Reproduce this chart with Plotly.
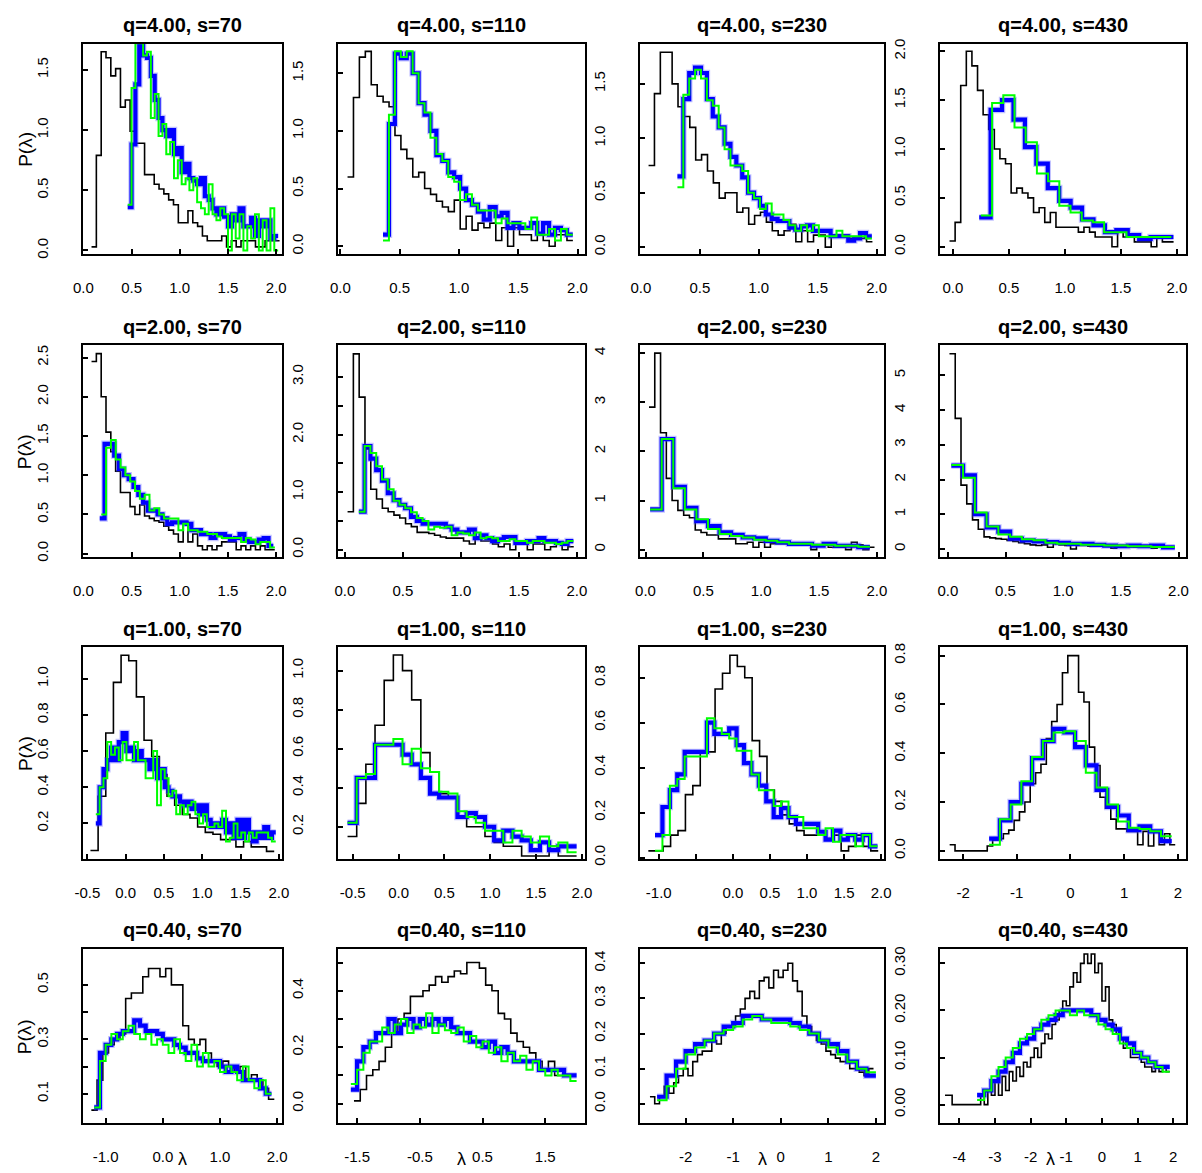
import plotly.graph_objects as go

W, H = 1202, 1173
FONT = "Liberation Sans, Arial, Helvetica, sans-serif"

# ---------------- data ----------------
q_labels = ["4.00", "2.00", "1.00", "0.40"]
s_labels = ["70", "110", "230", "430"]

# bins: (left edge of first bin, bin width) for black / blue / green
q4_s70_bins = {"black": (0.085, 0.05), "blue": (0.46, 0.04), "green": (0.46, 0.04)}
q4_s70_black = [0.03, 0.79, 1.65, 1.60, 1.45, 1.51, 1.19, 1.25, 0.99, 0.89, 0.89, 0.63, 0.63, 0.55, 0.51, 0.47, 0.42, 0.38, 0.23, 0.23, 0.33, 0.23, 0.20, 0.12, 0.08, 0.08, 0.08, 0.12, 0.03, 0.08, 0.03, 0.08, 0.08, 0.08, 0.03, 0.03, 0.08, 0.08, 0.08]
q4_s70_blue = [0.36, 0.88, 1.38, 1.75, 1.62, 1.60, 1.45, 1.25, 1.10, 1.00, 0.95, 1.00, 0.80, 0.85, 0.65, 0.72, 0.60, 0.58, 0.55, 0.60, 0.45, 0.42, 0.35, 0.30, 0.35, 0.28, 0.20, 0.30, 0.25, 0.35, 0.20, 0.20, 0.27, 0.12, 0.25, 0.20, 0.25, 0.10, 0.12]
q4_s70_green = [0.38, 1.35, 1.72, 1.72, 1.62, 1.65, 1.10, 1.30, 0.95, 1.05, 0.80, 0.90, 0.60, 0.75, 0.55, 0.60, 0.50, 0.60, 0.40, 0.35, 0.30, 0.55, 0.30, 0.25, 0.35, 0.30, 0.00, 0.30, 0.10, 0.30, 0.00, 0.20, 0.10, 0.30, 0.00, 0.25, 0.00, 0.35, 0.00]

q4_s110_bins = {"black": (0.061, 0.05), "blue": (0.36, 0.05), "green": (0.36, 0.05)}
q4_s110_black = [0.60, 1.29, 1.64, 1.69, 1.40, 1.30, 1.25, 1.21, 0.96, 0.84, 0.76, 0.60, 0.64, 0.50, 0.45, 0.39, 0.34, 0.30, 0.40, 0.15, 0.26, 0.14, 0.20, 0.16, 0.20, 0.05, 0.16, 0.0, 0.16, 0.10, 0.10, 0.05, 0.10, 0.05, 0.0, 0.10, 0.10, 0.05]
q4_s110_blue = [0.10, 1.06, 1.67, 1.63, 1.67, 1.50, 1.24, 1.14, 1.00, 0.79, 0.74, 0.64, 0.60, 0.50, 0.40, 0.36, 0.30, 0.23, 0.34, 0.26, 0.29, 0.16, 0.20, 0.16, 0.16, 0.20, 0.11, 0.20, 0.10, 0.16, 0.14, 0.10]
q4_s110_green = [0.05, 1.14, 1.69, 1.64, 1.69, 1.50, 1.24, 1.16, 0.94, 0.80, 0.74, 0.60, 0.56, 0.40, 0.45, 0.36, 0.31, 0.31, 0.31, 0.20, 0.24, 0.20, 0.20, 0.20, 0.15, 0.25, 0.10, 0.10, 0.15, 0.05, 0.15, 0.10]

q4_s230_bins = {"black": (0.065, 0.05), "blue": (0.31, 0.05), "green": (0.31, 0.05)}
q4_s230_black = [0.75, 1.41, 1.79, 1.79, 1.50, 1.29, 1.20, 1.10, 0.80, 0.85, 0.70, 0.59, 0.45, 0.50, 0.50, 0.32, 0.36, 0.21, 0.29, 0.32, 0.23, 0.15, 0.11, 0.15, 0.21, 0.05, 0.15, 0.05, 0.11, 0.11, 0.0, 0.11, 0.11, 0.11, 0.08, 0.08, 0.08, 0.05]
q4_s230_blue = [0.65, 1.36, 1.60, 1.65, 1.60, 1.36, 1.20, 1.10, 0.95, 0.83, 0.75, 0.64, 0.50, 0.45, 0.38, 0.30, 0.26, 0.24, 0.24, 0.18, 0.16, 0.19, 0.20, 0.15, 0.15, 0.15, 0.10, 0.10, 0.10, 0.06, 0.08, 0.13, 0.10]
q4_s230_green = [0.55, 1.40, 1.55, 1.63, 1.55, 1.35, 1.30, 1.10, 0.90, 0.75, 0.75, 0.70, 0.50, 0.45, 0.35, 0.40, 0.30, 0.30, 0.25, 0.20, 0.15, 0.20, 0.15, 0.20, 0.10, 0.10, 0.10, 0.15, 0.10, 0.10, 0.10, 0.10, 0.08]

q4_s430_bins = {"black": (-0.03, 0.05), "blue": (0.235, 0.102), "green": (0.25, 0.1)}
q4_s430_black = [0.06, 0.25, 1.65, 2.00, 1.85, 1.60, 1.35, 1.20, 1.00, 0.90, 0.85, 0.55, 0.60, 0.55, 0.50, 0.35, 0.40, 0.25, 0.35, 0.20, 0.20, 0.20, 0.20, 0.15, 0.20, 0.15, 0.10, 0.10, 0.10, 0.0, 0.15, 0.10, 0.10, 0.05, 0.05, 0.05, 0.0, 0.10, 0.05, 0.05]
q4_s430_blue = [0.30, 1.40, 1.50, 1.30, 1.02, 0.85, 0.60, 0.47, 0.40, 0.28, 0.22, 0.15, 0.17, 0.12, 0.08, 0.10, 0.10]
q4_s430_green = [0.32, 1.47, 1.55, 1.22, 1.07, 0.75, 0.67, 0.42, 0.35, 0.27, 0.25, 0.15, 0.15, 0.10, 0.10, 0.10, 0.10]

q2_s70_bins = {"black": (0.085, 0.05), "blue": (0.17, 0.05), "green": (0.186, 0.05)}
q2_s70_black = [2.45, 2.55, 2.00, 1.55, 1.30, 1.05, 0.78, 0.78, 0.60, 0.50, 0.62, 0.48, 0.45, 0.42, 0.40, 0.35, 0.30, 0.25, 0.15, 0.40, 0.15, 0.25, 0.10, 0.05, 0.10, 0.05, 0.10, 0.15, 0.15, 0.15, 0.05, 0.10, 0.05, 0.10, 0.05, 0.10, 0.05, 0.05]
q2_s70_blue = [0.45, 1.40, 1.40, 1.25, 1.08, 1.00, 0.95, 0.85, 0.75, 0.65, 0.55, 0.55, 0.50, 0.45, 0.38, 0.40, 0.40, 0.40, 0.38, 0.30, 0.30, 0.25, 0.25, 0.20, 0.25, 0.25, 0.22, 0.18, 0.20, 0.25, 0.18, 0.15, 0.15, 0.18, 0.20, 0.10]
q2_s70_green = [0.50, 1.35, 1.45, 1.20, 1.10, 1.00, 0.92, 0.80, 0.70, 0.75, 0.55, 0.58, 0.50, 0.45, 0.45, 0.45, 0.30, 0.38, 0.30, 0.30, 0.28, 0.28, 0.25, 0.25, 0.22, 0.20, 0.20, 0.20, 0.20, 0.15, 0.20, 0.18, 0.12, 0.15, 0.15, 0.08]

q2_s110_bins = {"black": (0.023, 0.05), "blue": (0.12, 0.05), "green": (0.12, 0.05)}
q2_s110_black = [0.66, 3.40, 2.65, 1.75, 1.05, 0.88, 0.72, 0.66, 0.60, 0.55, 0.45, 0.40, 0.30, 0.30, 0.28, 0.25, 0.22, 0.20, 0.20, 0.20, 0.15, 0.10, 0.20, 0.15, 0.15, 0.10, 0.05, 0.10, 0.0, 0.10, 0.10, 0.0, 0.10, 0.10, 0.0, 0.05, 0.10, 0.0, 0.05]
q2_s110_blue = [0.66, 1.80, 1.58, 1.38, 1.20, 0.98, 0.86, 0.78, 0.72, 0.57, 0.50, 0.45, 0.45, 0.45, 0.45, 0.40, 0.35, 0.30, 0.30, 0.35, 0.20, 0.25, 0.20, 0.15, 0.18, 0.22, 0.22, 0.12, 0.12, 0.15, 0.15, 0.20, 0.15, 0.15, 0.12, 0.10, 0.15]
q2_s110_green = [0.66, 1.80, 1.68, 1.45, 1.22, 1.05, 0.85, 0.78, 0.72, 0.65, 0.55, 0.50, 0.35, 0.40, 0.38, 0.40, 0.25, 0.30, 0.28, 0.25, 0.30, 0.20, 0.22, 0.20, 0.15, 0.15, 0.18, 0.15, 0.15, 0.12, 0.15, 0.15, 0.12, 0.12, 0.10, 0.12, 0.15]

q2_s230_bins = {"black": (0.03, 0.05), "blue": (0.04, 0.1), "green": (0.04, 0.1)}
q2_s230_black = [2.90, 4.00, 2.38, 1.45, 1.00, 0.80, 0.70, 0.65, 0.40, 0.35, 0.30, 0.30, 0.22, 0.22, 0.22, 0.12, 0.12, 0.15, 0.05, 0.15, 0.05, 0.12, 0.12, 0.12, 0.10, 0.10, 0.10, 0.10, 0.0, 0.10, 0.10, 0.05, 0.05, 0.05, 0.0, 0.15, 0.10, 0.0, 0.05]
q2_s230_blue = [0.82, 2.25, 1.28, 0.85, 0.58, 0.48, 0.35, 0.30, 0.25, 0.23, 0.18, 0.15, 0.12, 0.12, 0.08, 0.12, 0.08, 0.08, 0.05]
q2_s230_green = [0.82, 2.25, 1.25, 0.82, 0.62, 0.42, 0.32, 0.28, 0.25, 0.20, 0.18, 0.15, 0.12, 0.12, 0.10, 0.10, 0.08, 0.08, 0.06]

q2_s430_bins = {"black": (0.014, 0.05), "blue": (0.03, 0.102), "green": (0.03, 0.102)}
q2_s430_black = [5.62, 3.76, 1.84, 1.30, 0.84, 0.57, 0.35, 0.32, 0.30, 0.28, 0.25, 0.22, 0.18, 0.15, 0.12, 0.10, 0.12, 0.05, 0.15, 0.12, 0.10, 0.0, 0.10, 0.10, 0.08, 0.10, 0.12, 0.10, 0.02, 0.08, 0.08, 0.06, 0.05, 0.05, 0.05, 0.02, 0.05, 0.02, 0.05]
q2_s430_blue = [2.40, 2.12, 1.00, 0.62, 0.50, 0.30, 0.25, 0.22, 0.20, 0.18, 0.15, 0.15, 0.12, 0.10, 0.08, 0.10, 0.08, 0.10, 0.05]
q2_s430_green = [2.42, 2.05, 1.05, 0.65, 0.42, 0.35, 0.28, 0.25, 0.18, 0.15, 0.15, 0.12, 0.12, 0.10, 0.10, 0.08, 0.08, 0.06, 0.06]

q1_s70_bins = {"black": (-0.46, 0.1), "blue": (-0.39, 0.05), "green": (-0.39, 0.05)}
q1_s70_black = [0.05, 0.35, 0.70, 0.98, 1.13, 1.10, 0.90, 0.66, 0.57, 0.47, 0.35, 0.30, 0.25, 0.23, 0.18, 0.15, 0.14, 0.11, 0.11, 0.07, 0.10, 0.07, 0.07, 0.045]
q1_s70_blue = [0.20, 0.40, 0.50, 0.55, 0.62, 0.55, 0.65, 0.70, 0.60, 0.62, 0.55, 0.60, 0.55, 0.55, 0.50, 0.55, 0.45, 0.50, 0.40, 0.38, 0.35, 0.35, 0.32, 0.30, 0.32, 0.28, 0.30, 0.25, 0.30, 0.22, 0.18, 0.20, 0.18, 0.22, 0.15, 0.20, 0.12, 0.22, 0.12, 0.22, 0.15, 0.10, 0.15, 0.12, 0.18, 0.12, 0.15]
q1_s70_green = [0.25, 0.40, 0.45, 0.65, 0.58, 0.62, 0.55, 0.65, 0.55, 0.55, 0.65, 0.55, 0.55, 0.45, 0.45, 0.60, 0.30, 0.50, 0.45, 0.35, 0.38, 0.25, 0.30, 0.25, 0.30, 0.32, 0.25, 0.20, 0.25, 0.18, 0.18, 0.20, 0.18, 0.27, 0.10, 0.12, 0.20, 0.12, 0.15, 0.10, 0.15, 0.12, 0.15, 0.15, 0.15, 0.12, 0.10]

q1_s110_bins = {"black": (-0.557, 0.1), "blue": (-0.557, 0.1), "green": (-0.557, 0.1)}
q1_s110_black = [0.15, 0.32, 0.52, 0.72, 0.95, 1.08, 1.00, 0.85, 0.58, 0.48, 0.37, 0.35, 0.25, 0.20, 0.20, 0.15, 0.12, 0.10, 0.10, 0.05, 0.05, 0.05, 0.10, 0.05, 0.05]
q1_s110_blue = [0.22, 0.45, 0.45, 0.62, 0.62, 0.62, 0.57, 0.52, 0.45, 0.37, 0.35, 0.35, 0.25, 0.27, 0.25, 0.20, 0.13, 0.18, 0.15, 0.13, 0.08, 0.12, 0.08, 0.10, 0.10]
q1_s110_green = [0.22, 0.45, 0.47, 0.62, 0.62, 0.65, 0.52, 0.60, 0.50, 0.48, 0.38, 0.37, 0.28, 0.25, 0.22, 0.18, 0.18, 0.12, 0.18, 0.15, 0.12, 0.15, 0.10, 0.12, 0.07]

q1_s230_bins = {"black": (-1.14, 0.1), "blue": (-1.05, 0.1), "green": (-1.05, 0.1)}
q1_s230_black = [0.03, 0.03, 0.05, 0.10, 0.12, 0.28, 0.32, 0.47, 0.47, 0.75, 0.82, 0.90, 0.85, 0.80, 0.52, 0.45, 0.30, 0.25, 0.19, 0.15, 0.12, 0.10, 0.10, 0.10, 0.085, 0.10, 0.03, 0.05, 0.10, 0.05, 0.03]
q1_s230_blue = [0.10, 0.225, 0.30, 0.37, 0.47, 0.47, 0.47, 0.60, 0.55, 0.55, 0.575, 0.50, 0.42, 0.37, 0.32, 0.25, 0.18, 0.22, 0.18, 0.15, 0.15, 0.15, 0.115, 0.08, 0.12, 0.08, 0.10, 0.08, 0.10, 0.05]
q1_s230_green = [0.03, 0.10, 0.32, 0.35, 0.45, 0.45, 0.45, 0.62, 0.575, 0.55, 0.53, 0.475, 0.475, 0.37, 0.30, 0.30, 0.23, 0.25, 0.18, 0.18, 0.13, 0.13, 0.10, 0.13, 0.07, 0.10, 0.10, 0.05, 0.10, 0.05]

q1_s430_bins = {"black": (-2.25, 0.1), "blue": (-1.515, 0.2), "green": (-1.515, 0.2)}
q1_s430_black = [0.025, 0.0, 0.0, 0.0, 0.0, 0.0, 0.0, 0.02, 0.045, 0.05, 0.07, 0.085, 0.125, 0.16, 0.20, 0.275, 0.32, 0.355, 0.46, 0.53, 0.60, 0.73, 0.80, 0.80, 0.65, 0.61, 0.425, 0.35, 0.22, 0.175, 0.13, 0.09, 0.09, 0.08, 0.08, 0.025, 0.08, 0.02, 0.08, 0.025, 0.07, 0.025]
q1_s430_blue = [0.05, 0.125, 0.20, 0.275, 0.38, 0.45, 0.50, 0.485, 0.425, 0.35, 0.25, 0.18, 0.145, 0.085, 0.10, 0.08, 0.04]
q1_s430_green = [0.025, 0.13, 0.19, 0.285, 0.385, 0.45, 0.485, 0.49, 0.45, 0.32, 0.26, 0.19, 0.12, 0.095, 0.09, 0.08, 0.06]

q04_s70_bins = {"black": (-1.25, 0.1), "blue": (-1.2, 0.1), "green": (-1.2, 0.1)}
q04_s70_black = [0.04, 0.15, 0.25, 0.28, 0.30, 0.32, 0.45, 0.47, 0.47, 0.53, 0.56, 0.56, 0.53, 0.56, 0.50, 0.50, 0.35, 0.30, 0.28, 0.30, 0.25, 0.22, 0.20, 0.22, 0.20, 0.18, 0.20, 0.15, 0.17, 0.15, 0.12, 0.08]
q04_s70_blue = [0.05, 0.25, 0.28, 0.30, 0.32, 0.33, 0.33, 0.37, 0.35, 0.33, 0.33, 0.32, 0.30, 0.30, 0.28, 0.27, 0.25, 0.25, 0.23, 0.22, 0.22, 0.22, 0.20, 0.18, 0.20, 0.18, 0.15, 0.15, 0.15, 0.12, 0.10]
q04_s70_green = [0.05, 0.22, 0.28, 0.32, 0.30, 0.33, 0.35, 0.32, 0.30, 0.32, 0.28, 0.30, 0.28, 0.25, 0.30, 0.25, 0.22, 0.28, 0.20, 0.25, 0.20, 0.22, 0.18, 0.20, 0.18, 0.15, 0.20, 0.15, 0.12, 0.15, 0.10]

q04_s110_bins = {"black": (-1.55, 0.1), "blue": (-1.6, 0.1), "green": (-1.6, 0.1)}
q04_s110_black = [0.01, 0.05, 0.10, 0.12, 0.15, 0.20, 0.25, 0.30, 0.32, 0.38, 0.38, 0.40, 0.42, 0.45, 0.43, 0.45, 0.47, 0.46, 0.50, 0.50, 0.48, 0.42, 0.40, 0.32, 0.30, 0.25, 0.22, 0.20, 0.18, 0.15, 0.12, 0.15, 0.10, 0.10, 0.10]
q04_s110_blue = [0.05, 0.15, 0.20, 0.22, 0.25, 0.25, 0.30, 0.25, 0.28, 0.30, 0.27, 0.30, 0.28, 0.30, 0.28, 0.30, 0.27, 0.25, 0.25, 0.22, 0.22, 0.20, 0.22, 0.18, 0.20, 0.18, 0.15, 0.15, 0.15, 0.15, 0.12, 0.12, 0.12, 0.12, 0.10, 0.10]
q04_s110_green = [0.07, 0.12, 0.18, 0.22, 0.22, 0.27, 0.25, 0.28, 0.30, 0.25, 0.28, 0.27, 0.32, 0.25, 0.28, 0.26, 0.25, 0.27, 0.22, 0.24, 0.20, 0.22, 0.18, 0.20, 0.15, 0.18, 0.15, 0.17, 0.12, 0.15, 0.12, 0.10, 0.12, 0.10, 0.10, 0.08]

q04_s230_bins = {"black": (-2.75, 0.1), "blue": (-2.6, 0.2), "green": (-2.6, 0.2)}
q04_s230_black = [0.02, 0.0, 0.02, 0.05, 0.03, 0.06, 0.08, 0.10, 0.08, 0.12, 0.14, 0.15, 0.15, 0.18, 0.17, 0.20, 0.22, 0.22, 0.25, 0.27, 0.30, 0.32, 0.30, 0.35, 0.36, 0.33, 0.38, 0.36, 0.38, 0.40, 0.35, 0.32, 0.25, 0.22, 0.20, 0.18, 0.17, 0.15, 0.14, 0.13, 0.12, 0.12, 0.10, 0.10, 0.09, 0.08, 0.10]
q04_s230_blue = [0.02, 0.08, 0.12, 0.15, 0.17, 0.18, 0.20, 0.22, 0.23, 0.25, 0.25, 0.24, 0.24, 0.24, 0.23, 0.22, 0.20, 0.18, 0.17, 0.15, 0.12, 0.10, 0.08]
q04_s230_green = [0.01, 0.05, 0.10, 0.14, 0.16, 0.18, 0.20, 0.21, 0.22, 0.24, 0.25, 0.24, 0.23, 0.23, 0.22, 0.21, 0.20, 0.18, 0.16, 0.14, 0.12, 0.10, 0.09]

q04_s430_bins = {"black": (-4.4, 0.1), "blue": (-3.5, 0.2), "green": (-3.5, 0.2)}
q04_s430_black = [0.02, 0.02, 0.0, 0.0, 0.0, 0.0, 0.0, 0.0, 0.0, 0.0, 0.02, 0.0, 0.03, 0.02, 0.05, 0.02, 0.06, 0.03, 0.07, 0.05, 0.08, 0.06, 0.09, 0.08, 0.10, 0.12, 0.10, 0.13, 0.15, 0.14, 0.17, 0.18, 0.20, 0.22, 0.21, 0.25, 0.28, 0.26, 0.30, 0.32, 0.30, 0.32, 0.28, 0.30, 0.22, 0.25, 0.18, 0.17, 0.15, 0.14, 0.12, 0.12, 0.10, 0.10, 0.10, 0.09, 0.08, 0.08, 0.07, 0.08, 0.07, 0.08, 0.07]
q04_s430_blue = [0.02, 0.03, 0.05, 0.07, 0.09, 0.11, 0.13, 0.14, 0.16, 0.17, 0.18, 0.19, 0.20, 0.20, 0.20, 0.20, 0.19, 0.18, 0.17, 0.16, 0.14, 0.13, 0.11, 0.10, 0.09, 0.08, 0.08]
q04_s430_green = [0.01, 0.03, 0.06, 0.08, 0.10, 0.12, 0.14, 0.15, 0.16, 0.18, 0.19, 0.20, 0.20, 0.19, 0.20, 0.19, 0.19, 0.17, 0.16, 0.15, 0.13, 0.12, 0.11, 0.10, 0.09, 0.08, 0.07]


# axis settings per panel: x range, y range, x ticks, y ticks (value, label)
def ticks(vals, fmt, hide=()):
    return (vals, ["" if v in hide else fmt.format(v) for v in vals])


X02 = ticks([0, 0.5, 1.0, 1.5, 2.0], "{:.1f}")
panels = [
    # row q=4
    dict(data=(q4_s70_bins, q4_s70_black, q4_s70_blue, q4_s70_green), xr=[-0.004, 2.061], yr=[-0.033, 1.718], xt=X02, yt=ticks([0, 0.5, 1.0, 1.5], "{:.1f}")),
    dict(data=(q4_s110_bins, q4_s110_black, q4_s110_blue, q4_s110_green), xr=[-0.017, 2.061], yr=[-0.071, 1.757], xt=X02, yt=ticks([0, 0.5, 1.0, 1.5], "{:.1f}")),
    dict(data=(q4_s230_bins, q4_s230_black, q4_s230_blue, q4_s230_green), xr=[-0.008, 2.067], yr=[-0.067, 1.870], xt=X02, yt=ticks([0, 0.5, 1.0, 1.5], "{:.1f}")),
    dict(data=(q4_s430_bins, q4_s430_black, q4_s430_blue, q4_s430_green), xr=[-0.118, 2.082], yr=[-0.078, 2.078], xt=X02, yt=ticks([0, 0.5, 1.0, 1.5, 2.0], "{:.1f}")),
    # row q=2
    dict(data=(q2_s70_bins, q2_s70_black, q2_s70_blue, q2_s70_green), xr=[-0.004, 2.061], yr=[-0.046, 2.654], xt=X02, yt=ticks([0, 0.5, 1.0, 1.5, 2.0, 2.5], "{:.1f}")),
    dict(data=(q2_s110_bins, q2_s110_black, q2_s110_blue, q2_s110_green), xr=[-0.057, 2.068], yr=[-0.132, 3.546], xt=X02, yt=ticks([0, 0.5, 1.0, 1.5, 2.0, 2.5, 3.0], "{:.1f}", hide=(0.5, 1.5, 2.5))),
    dict(data=(q2_s230_bins, q2_s230_black, q2_s230_blue, q2_s230_green), xr=[-0.048, 2.066], yr=[-0.155, 4.155], xt=X02, yt=ticks([0, 1, 2, 3, 4], "{:d}")),
    dict(data=(q2_s430_bins, q2_s430_black, q2_s430_blue, q2_s430_green), xr=[-0.071, 2.066], yr=[-0.238, 5.857], xt=X02, yt=ticks([0, 1, 2, 3, 4, 5], "{:d}")),
    # row q=1
    dict(data=(q1_s70_bins, q1_s70_black, q1_s70_blue, q1_s70_green), xr=[-0.558, 2.043], yr=[0.002, 1.174], xt=ticks([-0.5, 0, 0.5, 1.0, 1.5, 2.0], "{:.1f}"), yt=ticks([0.2, 0.4, 0.6, 0.8, 1.0], "{:.1f}")),
    dict(data=(q1_s110_bins, q1_s110_black, q1_s110_blue, q1_s110_green), xr=[-0.658, 2.032], yr=[0.034, 1.119], xt=ticks([-0.5, 0, 0.5, 1.0, 1.5, 2.0], "{:.1f}"), yt=ticks([0.2, 0.4, 0.6, 0.8, 1.0], "{:.1f}")),
    dict(data=(q1_s230_bins, q1_s230_black, q1_s230_blue, q1_s230_green), xr=[-1.253, 2.044], yr=[-0.007, 0.935], xt=ticks([-1.0, -0.5, 0, 0.5, 1.0, 1.5, 2.0], "{:.1f}", hide=(-0.5,)), yt=ticks([0, 0.2, 0.4, 0.6, 0.8], "{:.1f}")),
    dict(data=(q1_s430_bins, q1_s430_black, q1_s430_blue, q1_s430_green), xr=[-2.436, 2.153], yr=[-0.034, 0.834], xt=ticks([-2, -1, 0, 1, 2], "{:d}"), yt=ticks([0, 0.2, 0.4, 0.6, 0.8], "{:.1f}")),
    # row q=0.4
    dict(data=(q04_s70_bins, q04_s70_black, q04_s70_blue, q04_s70_green), xr=[-1.397, 2.086], yr=[-0.009, 0.631], xt=ticks([-1.0, 0, 1.0, 2.0], "{:.1f}"), yt=ticks([0.1, 0.2, 0.3, 0.4, 0.5], "{:.1f}", hide=(0.2, 0.4))),
    dict(data=(q04_s110_bins, q04_s110_black, q04_s110_blue, q04_s110_green), xr=[-1.80, 2.13], yr=[-0.07, 0.547], xt=ticks([-1.5, -0.5, 0.5, 1.5], "{:.1f}"), yt=ticks([0, 0.1, 0.2, 0.3, 0.4, 0.5], "{:.1f}", hide=(0.1, 0.3, 0.5))),
    dict(data=(q04_s230_bins, q04_s230_black, q04_s230_blue, q04_s230_green), xr=[-2.96, 2.18], yr=[-0.056, 0.44], xt=ticks([-2, -1, 0, 1, 2], "{:d}"), yt=ticks([0, 0.1, 0.2, 0.3, 0.4], "{:.1f}")),
    dict(data=(q04_s430_bins, q04_s430_black, q04_s430_blue, q04_s430_green), xr=[-4.55, 2.36], yr=[-0.04, 0.33], xt=ticks([-4, -3, -2, -1, 0, 1, 2], "{:d}"), yt=ticks([0, 0.1, 0.2, 0.3], "{:.2f}")),
]

# ---------------- layout geometry (pixels) ----------------
col_px = [(74, 276), (333, 583), (639, 887), (943, 1193)]
row_px = [(39, 252), (344, 558), (649, 863), (954, 1130)]
xlab_px = [175, 458, 763, 1055]


def steps(bins, vals):
    start, width = bins
    xs = [start + width * i for i in range(len(vals) + 1)]
    ys = list(vals) + [vals[-1]]
    return xs, ys


fig = go.Figure()
layout = dict(width=W, height=H, margin=dict(l=0, r=0, t=0, b=0),
              paper_bgcolor="white", plot_bgcolor="white", showlegend=False)
annotations = []

for k, p in enumerate(panels):
    r, c = divmod(k, 4)
    n = k + 1
    xa = "x" if n == 1 else f"x{n}"
    ya = "y" if n == 1 else f"y{n}"
    bins, black, blue, green = p["data"]
    bx, by = steps(bins["black"], black)
    ux, uy = steps(bins["blue"], blue)
    gx, gy = steps(bins["green"], green)
    fig.add_trace(go.Scatter(x=bx, y=by, mode="lines", line=dict(color="black", width=1.6, shape="hv"),
                             xaxis=xa, yaxis=ya, hoverinfo="skip"))
    fig.add_trace(go.Scatter(x=ux, y=uy, mode="lines", line=dict(color="rgba(80,80,255,0.35)", width=6.5, shape="hv"),
                             xaxis=xa, yaxis=ya, hoverinfo="skip"))
    fig.add_trace(go.Scatter(x=ux, y=uy, mode="lines", line=dict(color="#0000FF", width=4.2, shape="hv"),
                             xaxis=xa, yaxis=ya, hoverinfo="skip"))
    fig.add_trace(go.Scatter(x=gx, y=gy, mode="lines", line=dict(color="#00FF00", width=2.0, shape="hv"),
                             xaxis=xa, yaxis=ya, hoverinfo="skip"))

    x0, x1 = col_px[c]
    y0, y1 = row_px[r]
    common = dict(showline=True, mirror=True, linecolor="black", linewidth=2,
                  ticks="inside", ticklen=5, tickwidth=1.5, tickcolor="black",
                  showgrid=False, zeroline=False,
                  tickfont=dict(family=FONT, size=15, color="black"))
    layout["xaxis" if n == 1 else f"xaxis{n}"] = dict(
        common, domain=[x0 / W, x1 / W], range=p["xr"], anchor=ya,
        tickmode="array", tickvals=p["xt"][0], ticktext=p["xt"][1], ticklabelstandoff=19)
    layout["yaxis" if n == 1 else f"yaxis{n}"] = dict(
        common, domain=[1 - y1 / H, 1 - y0 / H], range=p["yr"], anchor=xa,
        tickmode="array", tickvals=p["yt"][0], ticktext=p["yt"][1], tickangle=-90, ticklabelstandoff=27)

    annotations.append(dict(text=f"<b>q={q_labels[r]}, s={s_labels[c]}</b>", xref="paper", yref="paper",
                            x=(x0 + x1) / 2 / W, y=1 - (y0 - 19) / H, showarrow=False,
                            xanchor="center", yanchor="middle",
                            font=dict(family=FONT, size=20, color="black")))
    if c == 0:
        annotations.append(dict(text="P(λ)", xref="paper", yref="paper", x=15 / W, y=1 - (y0 + y1) / 2 / H,
                                showarrow=False, textangle=-90, xanchor="center", yanchor="middle",
                                font=dict(family=FONT, size=19, color="black")))
    if r == 3:
        annotations.append(dict(text="λ", xref="paper", yref="paper", x=xlab_px[c] / W, y=1 - 1166 / H,
                                showarrow=False, xanchor="center", yanchor="middle",
                                font=dict(family=FONT, size=18, color="black")))

layout["annotations"] = annotations
fig.update_layout(**layout)
fig.write_html("out.html")
